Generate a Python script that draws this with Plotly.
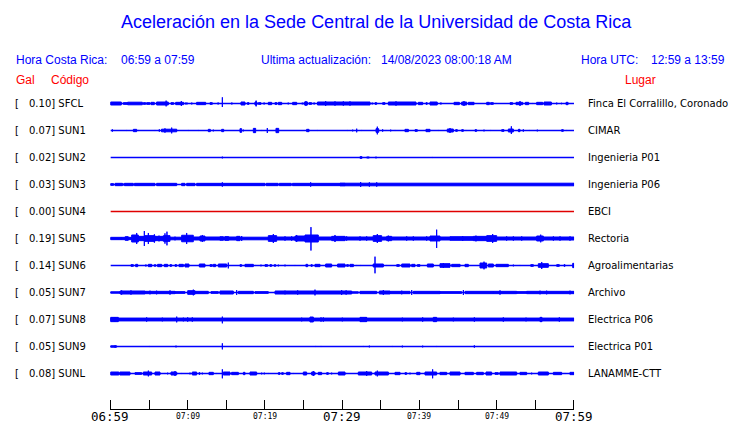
import plotly.graph_objects as go

# ---------------- data ----------------
codes = ["SFCL", "SUN1", "SUN2", "SUN3", "SUN4", "SUN5", "SUN6", "SUN7", "SUN8", "SUN9", "SUNL"]
peaks_gal = [0.10, 0.07, 0.02, 0.03, 0.00, 0.19, 0.14, 0.05, 0.07, 0.05, 0.08]
places = ["Finca El Corralillo, Coronado", "CIMAR", "Ingenieria P01", "Ingenieria P06", "EBCI",
          "Rectoria", "Agroalimentarias", "Archivo", "Electrica P06", "Electrica P01", "LANAMME-CTT"]
trace_colors = ["#0000ff", "#0000ff", "#0000ff", "#0000ff", "#e00000",
                "#0000ff", "#0000ff", "#0000ff", "#0000ff", "#0000ff", "#0000ff"]

tick_minutes = [0, 5, 10, 15, 20, 25, 30, 35, 40, 45, 50, 55, 60]
label_minutes = [0, 10, 20, 30, 40, 50, 60]
tick_labels = ["06:59", "07:09", "07:19", "07:29", "07:39", "07:49", "07:59"]
big_labels = ["06:59", "07:29", "07:59"]

# envelope segments: (start_min, end_min, amp_up_gal[, amp_down_gal])
SFCL = [
    (0.00, 1.40, 0.023), (1.66, 2.22, 0.013), (2.22, 4.12, 0.020), (4.25, 4.55, 0.013),
    (4.68, 5.10, 0.013), (5.24, 5.67, 0.018), (5.97, 7.48, 0.023), (7.20, 7.20, 0.044),
    (7.83, 8.18, 0.013), (8.44, 9.47, 0.018), (9.17, 9.17, 0.038), (9.64, 9.99, 0.008),
    (10.42, 10.60, 0.008), (11.15, 12.32, 0.018), (12.88, 13.18, 0.013), (13.83, 14.05, 0.008),
    (14.48, 14.48, 0.095, 0.054), (15.60, 15.80, 0.008), (16.89, 17.41, 0.023), (17.71, 17.93, 0.013),
    (18.70, 18.96, 0.023), (18.85, 18.85, 0.044), (19.14, 19.48, 0.013), (19.78, 20.00, 0.008),
    (20.43, 20.86, 0.018), (21.29, 21.55, 0.013), (21.73, 22.16, 0.018), (22.93, 23.10, 0.008),
    (23.58, 24.10, 0.018), (24.75, 24.96, 0.008), (25.09, 25.52, 0.023), (25.30, 25.30, 0.038),
    (25.70, 26.04, 0.013), (26.26, 26.47, 0.008), (26.80, 33.60, 0.023), (27.85, 27.85, 0.038),
    (29.06, 29.06, 0.033), (30.14, 30.14, 0.033), (31.00, 31.00, 0.033), (33.80, 34.00, 0.008),
    (34.24, 34.46, 0.013), (35.23, 35.54, 0.013), (35.97, 39.55, 0.023), (36.96, 36.96, 0.033),
    (39.85, 40.41, 0.018), (40.84, 41.00, 0.013), (41.36, 42.30, 0.023), (42.65, 42.87, 0.008),
    (44.47, 45.16, 0.018), (45.46, 46.10, 0.023), (45.76, 45.76, 0.038), (46.32, 47.06, 0.018),
    (48.70, 49.04, 0.018), (49.20, 49.56, 0.013), (49.90, 49.90, 0.008), (51.72, 52.06, 0.013),
    (52.49, 53.36, 0.018), (53.01, 53.01, 0.038), (53.70, 54.13, 0.018), (54.65, 54.65, 0.008),
    (55.17, 55.95, 0.018), (56.12, 57.07, 0.023), (57.67, 57.84, 0.008), (58.32, 58.40, 0.008),
    (58.97, 59.23, 0.018),
]
SUN1 = [
    (0.24, 0.24, 0.018), (2.09, 2.09, 0.008), (2.96, 3.39, 0.018), (3.60, 3.60, 0.008),
    (5.76, 5.76, 0.008), (6.32, 6.32, 0.018), (6.60, 8.57, 0.020), (7.05, 7.05, 0.033),
    (7.92, 7.92, 0.044), (10.08, 10.08, 0.008), (11.37, 11.37, 0.008), (12.66, 12.92, 0.018),
    (13.31, 13.31, 0.013), (14.39, 14.65, 0.018), (16.76, 16.98, 0.028), (17.20, 17.20, 0.013),
    (18.49, 18.79, 0.033), (18.65, 18.65, 0.038), (19.57, 19.57, 0.008), (20.30, 20.30, 0.038),
    (21.42, 21.77, 0.033), (25.39, 25.70, 0.018), (26.77, 26.77, 0.008), (30.66, 30.66, 0.008),
    (31.35, 31.35, 0.013), (31.87, 31.87, 0.028), (32.51, 32.51, 0.008), (34.37, 34.72, 0.028),
    (34.54, 34.54, 0.059), (35.23, 35.23, 0.018), (35.66, 35.66, 0.008), (36.27, 36.27, 0.013),
    (36.83, 36.83, 0.008), (38.12, 38.56, 0.018), (39.42, 39.72, 0.013), (40.84, 41.36, 0.018),
    (42.44, 42.44, 0.008), (43.60, 44.38, 0.023), (43.95, 43.95, 0.038), (44.68, 44.90, 0.013),
    (45.46, 45.68, 0.013), (46.02, 46.02, 0.008), (47.19, 47.40, 0.013), (48.35, 48.35, 0.013),
    (49.21, 49.21, 0.008), (50.64, 50.94, 0.013), (51.50, 52.15, 0.023), (51.89, 51.89, 0.064, 0.054),
    (52.80, 53.01, 0.018), (53.44, 53.44, 0.018), (54.22, 54.22, 0.008), (55.25, 55.25, 0.013),
    (58.40, 58.62, 0.013), (59.05, 59.05, 0.008),
]
SUN2 = [
    (14.48, 14.48, 0.013), (32.30, 32.56, 0.013), (32.90, 32.90, 0.005), (33.16, 33.50, 0.008),
    (34.37, 34.37, 0.013), (41.66, 41.66, 0.008),
]
SUN3 = [
    (0.00, 0.40, 0.013), (0.60, 1.55, 0.018), (1.55, 1.80, 0.008), (1.80, 2.95, 0.018),
    (3.10, 5.76, 0.018), (5.97, 8.57, 0.018), (9.21, 9.64, 0.018), (9.86, 10.94, 0.018),
    (11.15, 20.00, 0.018), (14.48, 14.48, 0.033), (20.15, 21.70, 0.018), (21.85, 23.40, 0.018),
    (23.55, 30.36, 0.018), (25.91, 25.91, 0.033), (29.71, 60.00, 0.020), (32.38, 32.38, 0.038),
    (33.51, 33.51, 0.033), (34.46, 34.46, 0.033),
]
SUN4 = []
SUN5 = [
    (0.00, 2.74, 0.018), (1.40, 1.40, 0.023), (1.90, 2.30, 0.028), (2.74, 3.60, 0.054),
    (3.39, 3.39, 0.085), (3.60, 4.38, 0.033), (4.38, 4.38, 0.115), (4.45, 5.76, 0.044),
    (4.90, 4.90, 0.085), (5.68, 5.68, 0.064), (5.76, 6.84, 0.033), (6.28, 6.28, 0.044),
    (6.84, 7.70, 0.044), (7.05, 7.05, 0.079), (7.31, 7.31, 0.105), (7.70, 9.21, 0.020),
    (8.35, 8.35, 0.028), (9.21, 10.72, 0.050), (9.86, 9.86, 0.085), (10.72, 11.58, 0.023),
    (11.58, 12.23, 0.038), (11.89, 11.89, 0.054), (12.23, 14.17, 0.023), (14.17, 14.60, 0.028),
    (14.60, 16.33, 0.023), (14.82, 15.30, 0.028), (16.33, 16.76, 0.033), (16.76, 20.43, 0.020),
    (16.98, 16.98, 0.038), (20.43, 21.51, 0.044), (21.08, 21.08, 0.069), (21.51, 23.88, 0.023),
    (22.59, 22.59, 0.033), (23.45, 23.45, 0.033), (23.88, 25.18, 0.038), (24.10, 24.10, 0.054),
    (25.18, 26.90, 0.054), (25.95, 25.95, 0.175, 0.185), (26.90, 28.63, 0.023), (28.63, 30.36, 0.033),
    (29.06, 29.06, 0.054), (30.36, 34.00, 0.023), (30.57, 30.57, 0.033), (32.30, 32.30, 0.033),
    (33.16, 33.16, 0.033), (34.00, 35.10, 0.044), (34.54, 34.54, 0.069), (35.10, 35.75, 0.023),
    (35.75, 36.40, 0.033), (35.97, 35.97, 0.044), (36.40, 41.36, 0.023), (38.34, 38.34, 0.033),
    (39.20, 39.20, 0.033), (40.93, 40.93, 0.033), (41.36, 42.65, 0.038), (42.22, 42.22, 0.136, 0.146),
    (42.65, 43.95, 0.023), (43.95, 46.97, 0.028), (45.59, 45.59, 0.038), (46.97, 48.70, 0.033),
    (47.31, 47.31, 0.044), (48.70, 49.99, 0.044), (49.47, 49.47, 0.069), (49.99, 55.17, 0.023),
    (51.28, 51.28, 0.033), (52.15, 52.15, 0.033), (53.23, 53.23, 0.033), (55.17, 56.03, 0.038),
    (55.69, 55.69, 0.059), (56.03, 60.00, 0.023), (57.33, 57.33, 0.033), (58.19, 58.19, 0.033),
    (59.48, 59.48, 0.033),
]
SUN6 = [
    (2.65, 2.96, 0.013), (3.26, 3.52, 0.018), (4.47, 4.68, 0.008), (4.90, 5.33, 0.018),
    (5.68, 5.85, 0.013), (6.10, 6.62, 0.018), (6.97, 7.40, 0.018), (7.70, 7.92, 0.013),
    (8.35, 8.57, 0.013), (8.87, 9.43, 0.018), (9.64, 10.16, 0.023), (11.50, 12.23, 0.023),
    (12.88, 13.18, 0.013), (13.31, 13.61, 0.018), (13.96, 15.04, 0.023), (15.25, 15.25, 0.044),
    (16.76, 16.98, 0.013), (17.41, 18.49, 0.018), (18.79, 18.79, 0.008), (19.48, 19.48, 0.013),
    (20.00, 20.34, 0.013), (20.64, 20.86, 0.013), (21.21, 21.38, 0.013), (21.73, 21.73, 0.013),
    (22.59, 22.59, 0.013), (23.88, 23.88, 0.008), (25.30, 25.52, 0.018), (25.95, 26.12, 0.013),
    (26.47, 27.12, 0.018), (27.85, 28.63, 0.023), (29.40, 30.36, 0.023), (30.14, 30.14, 0.018),
    (30.57, 30.80, 0.013), (31.00, 31.44, 0.018), (31.87, 31.87, 0.008), (32.38, 32.38, 0.008),
    (34.00, 35.32, 0.023), (34.24, 34.24, 0.136, 0.120), (35.75, 35.75, 0.008), (37.05, 37.39, 0.013),
    (37.70, 38.77, 0.023), (38.99, 39.42, 0.018), (39.72, 40.06, 0.013), (41.02, 41.79, 0.023),
    (42.65, 43.95, 0.028), (43.09, 43.09, 0.038), (44.17, 45.25, 0.018), (45.89, 46.32, 0.018),
    (47.83, 48.70, 0.038), (48.35, 48.35, 0.059), (48.91, 49.56, 0.023), (49.90, 51.50, 0.018),
    (52.15, 52.15, 0.013), (53.01, 53.01, 0.008), (54.40, 54.74, 0.013), (55.38, 56.68, 0.028),
    (55.82, 55.82, 0.054), (57.76, 58.10, 0.013), (58.71, 58.84, 0.013), (59.83, 60.00, 0.033),
]
SUN7 = [
    (0.00, 1.23, 0.010), (1.23, 4.47, 0.023), (1.44, 1.44, 0.033), (2.65, 2.65, 0.033),
    (4.47, 8.35, 0.018), (5.11, 5.11, 0.028), (5.97, 5.97, 0.028), (7.70, 7.70, 0.033),
    (8.35, 9.64, 0.013), (9.99, 10.94, 0.028), (10.72, 10.72, 0.044), (10.94, 12.66, 0.018),
    (13.01, 13.96, 0.013), (14.17, 15.90, 0.023), (16.33, 16.33, 0.038), (16.55, 18.49, 0.018),
    (18.70, 20.43, 0.013), (21.30, 30.36, 0.023), (22.59, 22.59, 0.028), (24.23, 24.23, 0.033),
    (26.47, 26.47, 0.044), (29.92, 29.92, 0.038), (30.36, 31.22, 0.023), (30.50, 30.50, 0.033),
    (31.22, 32.08, 0.010), (32.30, 34.46, 0.018), (34.80, 36.18, 0.023), (35.32, 35.32, 0.038),
    (36.18, 38.77, 0.018), (37.70, 37.70, 0.028), (38.99, 38.99, 0.038), (39.20, 42.65, 0.018),
    (42.65, 45.46, 0.013), (45.68, 45.68, 0.038), (45.90, 49.56, 0.018), (49.56, 52.58, 0.018),
    (50.42, 50.42, 0.033), (52.58, 53.87, 0.013), (53.87, 60.00, 0.018), (55.60, 55.60, 0.028),
    (56.46, 56.46, 0.028), (59.48, 59.48, 0.028),
]
SUN8 = [
    (0.00, 60.00, 0.022), (0.00, 1.01, 0.033), (0.58, 0.58, 0.038), (4.68, 4.68, 0.033),
    (6.71, 6.71, 0.028), (8.57, 8.57, 0.044), (9.43, 9.43, 0.028), (9.99, 9.99, 0.033),
    (10.59, 10.59, 0.033), (14.48, 14.48, 0.044, 0.059), (24.75, 24.75, 0.028), (25.82, 26.26, 0.038),
    (27.25, 27.25, 0.033), (27.55, 27.55, 0.033), (30.01, 30.01, 0.028), (32.30, 33.16, 0.033),
    (32.38, 32.38, 0.038), (33.08, 33.08, 0.038), (37.78, 37.78, 0.028), (40.41, 40.41, 0.033),
    (41.79, 42.22, 0.033), (44.38, 44.38, 0.028), (47.10, 47.10, 0.033), (50.85, 50.85, 0.033),
    (53.79, 53.79, 0.028), (55.60, 55.86, 0.033), (58.10, 58.10, 0.033),
]
SUN9 = [
    (0.00, 0.80, 0.010), (0.60, 0.60, 0.018), (5.03, 5.03, 0.008), (8.48, 8.48, 0.013),
    (14.48, 14.48, 0.049, 0.044), (26.56, 26.56, 0.008), (27.25, 27.25, 0.008), (32.73, 32.73, 0.008),
    (33.51, 33.51, 0.013), (36.48, 36.48, 0.008), (37.78, 37.78, 0.013), (40.41, 40.41, 0.013),
    (42.22, 42.22, 0.008), (47.10, 47.10, 0.018),
]
SUNL = [
    (0.00, 1.08, 0.023), (1.20, 2.52, 0.023), (3.17, 4.04, 0.013), (4.25, 5.33, 0.023),
    (4.90, 4.90, 0.044), (5.76, 6.41, 0.023), (7.05, 7.05, 0.008), (7.40, 7.40, 0.013),
    (7.83, 8.57, 0.023), (8.35, 8.35, 0.038), (9.21, 9.21, 0.008), (10.29, 10.29, 0.013),
    (10.59, 11.15, 0.023), (11.45, 11.58, 0.013), (11.89, 11.89, 0.013), (12.75, 13.31, 0.018),
    (13.74, 13.74, 0.008), (14.48, 14.48, 0.064, 0.074), (14.60, 15.47, 0.023), (15.68, 16.55, 0.018),
    (17.20, 17.41, 0.018), (18.06, 18.92, 0.023), (19.57, 19.57, 0.013), (19.91, 19.91, 0.013),
    (20.43, 20.43, 0.008), (21.73, 21.94, 0.013), (22.16, 22.37, 0.013), (22.80, 23.24, 0.018),
    (23.67, 23.67, 0.008), (24.96, 25.39, 0.023), (26.04, 26.47, 0.023), (26.26, 26.26, 0.038),
    (26.90, 27.33, 0.018), (27.98, 28.20, 0.013), (28.63, 28.63, 0.013), (29.50, 30.36, 0.023),
    (30.57, 30.57, 0.008), (32.08, 33.81, 0.023), (33.16, 33.16, 0.038), (34.24, 35.97, 0.023),
    (34.54, 34.54, 0.044), (36.83, 37.48, 0.018), (38.12, 38.34, 0.013), (38.77, 38.77, 0.013),
    (39.64, 40.06, 0.018), (40.71, 42.22, 0.023), (41.70, 41.70, 0.064, 0.074), (42.65, 43.52, 0.018),
    (43.95, 45.25, 0.023), (45.89, 46.97, 0.018), (47.40, 48.26, 0.018), (48.61, 49.34, 0.023),
    (49.77, 50.20, 0.013), (50.42, 52.58, 0.023), (53.01, 53.87, 0.018), (54.52, 54.52, 0.013),
    (55.38, 56.68, 0.023), (57.33, 58.40, 0.018), (58.84, 58.84, 0.008), (59.48, 60.00, 0.018),
]
series = [SFCL, SUN1, SUN2, SUN3, SUN4, SUN5, SUN6, SUN7, SUN8, SUN9, SUNL]

# ---------------- layout constants (page pixels) ----------------
PAGE_OFF = 8                      # the html body margin shifts the figure by 8 px
W, H = 740 - PAGE_OFF, 423 - PAGE_OFF
X0, X1 = 110.5, 574.0
ROW0, ROW_STEP = 103.5, 27.0
PX_PER_GAL = 65.0
HALF = 13.5
AXIS_Y = 409
T_START, T_END = 0, 60
PAD = 0.02                        # tiny pad so the end ticks are kept


def py(p):
    return 1 - (p - PAGE_OFF) / H


def px(p):
    return (p - PAGE_OFF) / W


fig = go.Figure()
layout_axes = {}
for i, segs in enumerate(series):
    ysuffix = "" if i == 0 else str(i + 1)
    color = trace_colors[i]
    fig.add_trace(go.Scatter(x=[T_START, T_END], y=[0, 0], mode="lines",
                             line=dict(color=color, width=1.3), xaxis="x", yaxis="y" + ysuffix,
                             hoverinfo="skip", showlegend=False))
    xs, ys = [], []
    for s in segs:
        t0, t1, up = s[0], s[1], s[2]
        dn = s[3] if len(s) > 3 else up
        xs += [t0, t1, t1, t0, t0, None]
        ys += [up, up, -dn, -dn, up, None]
    if xs:
        fig.add_trace(go.Scatter(x=xs, y=ys, mode="lines", fill="toself", fillcolor=color,
                                 line=dict(color=color, width=1), xaxis="x", yaxis="y" + ysuffix,
                                 hoverinfo="skip", showlegend=False))
    c = ROW0 + ROW_STEP * i
    layout_axes["yaxis" + ysuffix] = dict(domain=[py(c + HALF), py(c - HALF)],
                                          range=[-HALF / PX_PER_GAL, HALF / PX_PER_GAL],
                                          visible=False, fixedrange=True, anchor="x")

ann = []
LBL = dict(family="DejaVu Sans", size=10, color="black")
for i in range(len(codes)):
    c = ROW0 + ROW_STEP * i
    ann.append(dict(x=px(13), y=py(c), text="[", xanchor="left", yanchor="middle", font=LBL))
    ann.append(dict(x=px(26.5), y=py(c), text=f"{peaks_gal[i]:.2f}] {codes[i]}",
                    xanchor="left", yanchor="middle", font=LBL))
    ann.append(dict(x=px(585.5), y=py(c), text=places[i], xanchor="left", yanchor="middle", font=LBL))

BLUE = "#0000ff"
RED = "#ff0000"
HDR = dict(family="Liberation Sans", size=12, color=BLUE)
ann.append(dict(x=px(376), y=py(22), text="Aceleración en la Sede Central de la Universidad de Costa Rica",
                xanchor="center", yanchor="middle", font=dict(family="Liberation Sans", size=18, color=BLUE)))
for xx, txt in [(14, "Hora Costa Rica:"), (119, "06:59 a 07:59"), (259, "Ultima actualización:"),
                (379, "14/08/2023 08:00:18 AM"), (579, "Hora UTC:"), (649, "12:59 a 13:59")]:
    ann.append(dict(x=px(xx), y=py(60), text=txt, xanchor="left", yanchor="middle", font=HDR))
for xx, txt in [(14, "Gal"), (49, "Código"), (623, "Lugar")]:
    ann.append(dict(x=px(xx), y=py(80), text=txt, xanchor="left", yanchor="middle",
                    font=dict(family="Liberation Sans", size=12, color=RED)))

for m, lab in zip(label_minutes, tick_labels):
    big = lab in big_labels
    ann.append(dict(x=m, xref="x", y=py(416.5), yref="paper", text=lab, xanchor="center", yanchor="middle",
                    font=dict(family="DejaVu Sans Mono", size=12.5 if big else 8, color="black")))

for a in ann:
    a.setdefault("xref", "paper")
    a.setdefault("yref", "paper")
    a["showarrow"] = False

# keep the data domain exactly on the reference pixels while padding the range a hair
span = T_END - T_START
dom0 = px(X0) - PAD / span * (px(X1) - px(X0))
dom1 = px(X1) + PAD / span * (px(X1) - px(X0))

fig.update_layout(
    width=W, height=H, margin=dict(l=0, r=0, t=0, b=0),
    paper_bgcolor="white", plot_bgcolor="white", showlegend=False,
    xaxis=dict(domain=[dom0, dom1], range=[T_START - PAD, T_END + PAD], anchor="free", side="top",
               position=py(AXIS_Y),
               showline=True, linecolor="black", linewidth=1, ticks="outside", ticklen=9,
               tickcolor="black", tickwidth=1, tickvals=tick_minutes, showticklabels=False,
               showgrid=False, zeroline=False, fixedrange=True),
    annotations=ann,
    **layout_axes,
)

fig.write_html("out.html")
